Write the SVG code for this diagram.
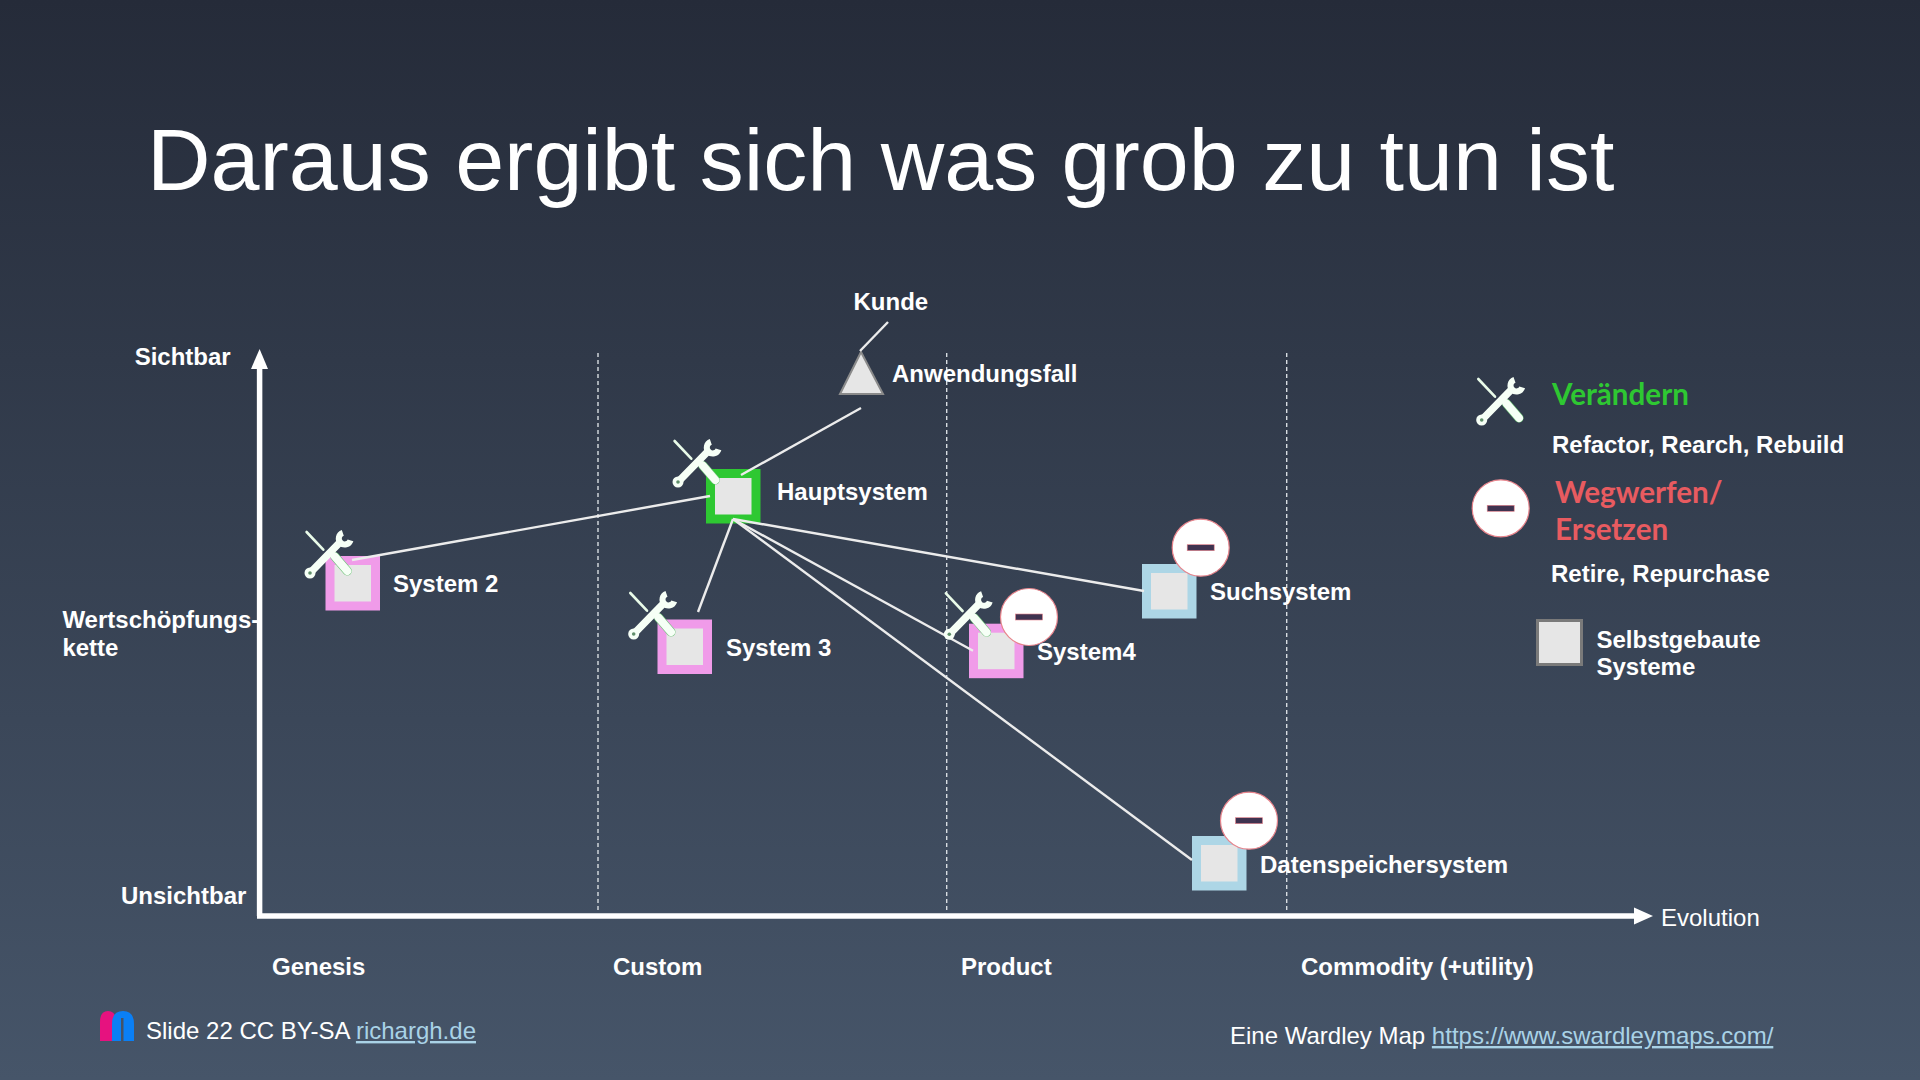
<svg xmlns="http://www.w3.org/2000/svg" width="1920" height="1080" viewBox="0 0 1920 1080">
<defs>
<linearGradient id="bg" x1="0" y1="0" x2="0" y2="1"><stop offset="0" stop-color="#252b39"/><stop offset="1" stop-color="#465569"/></linearGradient>
<g id="tools" fill="none">
<path d="M18.300 14L35 31.700" stroke="#e9fbe9" stroke-width="2.600" stroke-linecap="round"/>
<path d="M46.500 38.500L59 53" stroke="#6fc47a" stroke-width="9" stroke-linecap="round"/>
<path d="M46.500 38.500L59 53" stroke="#f6fff6" stroke-width="8" stroke-linecap="round"/>
<path d="M21.700 55L50 26" stroke="#f6fff6" stroke-width="7.500" stroke-linecap="round"/>
<circle cx="21.700" cy="55" r="5.500" fill="#f6fff6"/><circle cx="21.700" cy="55" r="1.800" fill="#5f8f6a"/>
<path d="M54.500 14.800A6 6 0 1 0 62.200 22.300" stroke="#f6fff6" stroke-width="6"/>
</g>
<g id="minus">
<circle r="28.500" fill="#fff" stroke="#e8848c" stroke-width="1.200"/>
<rect x="-13.500" y="-3" width="27" height="6" fill="#3f3350" stroke="#e8848c" stroke-width=".6"/>
</g>
</defs>
<style>
text{font-family:"Liberation Sans",Arial,sans-serif;fill:#fff}
.b{font-weight:700;font-size:24px}
.r{font-size:24px}
.c{font-family:Lato,"Liberation Sans",sans-serif;font-weight:700;font-size:29.600px}
.link{fill:#a9d2e6;text-decoration:underline}
.inner{fill:#e6e6e6}
.conn{stroke:#ececec;stroke-width:2.400;fill:none}
.grid{stroke:#d8dde2;stroke-width:1.400;stroke-dasharray:4 3;fill:none}
.axis{stroke:#fff;stroke-width:5.500;fill:none}
</style>
<rect width="1920" height="1080" fill="url(#bg)"/>
<text x="147" y="190" font-size="88" id="title">Daraus ergibt sich was grob zu tun ist</text>

<g id="grid">
<path class="grid" d="M598 353V912M946.700 353V912M1286.700 353V912"/>
</g>
<g id="axes">
<path class="axis" d="M259.600 916V362"/><path d="M259.600 349L251 369H268Z" fill="#fff"/>
<path class="axis" d="M257 916H1638"/><path d="M1653 916L1634 907.500V924.500Z" fill="#fff"/>
<text class="b" x="134.700" y="365">Sichtbar</text>
<text class="b" x="121" y="904">Unsichtbar</text>
<text class="b" x="62.400" y="628">Wertschöpfungs-</text>
<text class="b" x="62.400" y="656">kette</text>
<text class="r" x="1661" y="926">Evolution</text>
<text class="b" x="272" y="975">Genesis</text>
<text class="b" x="613" y="975">Custom</text>
<text class="b" x="961" y="975">Product</text>
<text class="b" x="1301" y="975">Commodity (+utility)</text>
</g>

<g id="node-anwendungsfall">
<path d="M861 352L840 394H883Z" fill="#e6e6e6" stroke="#8a8a8a" stroke-width="2"/>
<text class="b" x="853.500" y="310">Kunde</text>
<text class="b" x="892" y="382">Anwendungsfall</text>
</g>
<g id="node-hauptsystem">
<rect x="706" y="469" width="54.500" height="54.500" fill="#2ec832"/><rect class="inner" x="715" y="478" width="36.500" height="36.500"/>
<text class="b" x="777" y="500">Hauptsystem</text>
</g>
<g id="node-system2">
<rect x="325.500" y="556" width="54.500" height="54.500" fill="#f09be9"/><rect class="inner" x="334.500" y="565" width="36.500" height="36.500"/>
<text class="b" x="393" y="592">System 2</text>
</g>
<g id="node-system3">
<rect x="657.500" y="619.500" width="54.500" height="54.500" fill="#f09be9"/><rect class="inner" x="666.500" y="628.500" width="36.500" height="36.500"/>
<text class="b" x="726" y="656">System 3</text>
</g>
<g id="node-system4">
<rect x="969" y="623.700" width="54.500" height="54.500" fill="#f09be9"/><rect class="inner" x="978" y="632.700" width="36.500" height="36.500"/>
<text class="b" x="1037" y="660">System4</text>
</g>
<g id="node-suchsystem">
<rect x="1142" y="564" width="54.500" height="54.500" fill="#add6e6"/><rect class="inner" x="1151" y="573" width="36.500" height="36.500"/>
<text class="b" x="1210" y="600">Suchsystem</text>
</g>
<g id="node-datenspeichersystem">
<rect x="1192" y="836" width="54.500" height="54.500" fill="#add6e6"/><rect class="inner" x="1201" y="845" width="36.500" height="36.500"/>
<text class="b" x="1260" y="873">Datenspeichersystem</text>
</g>

<g id="connectors">
<path class="conn" d="M888 322L860 351"/>
<path class="conn" d="M861 408L741 475"/>
<path class="conn" d="M710 496L352 560"/>
<path class="conn" d="M733 519L698 612"/>
<path class="conn" d="M733 519L1144 591"/>
<path class="conn" d="M733 519L973 650.700"/>
<path class="conn" d="M733 519L1192 860"/>
</g>

<g id="markers">
<use href="#tools" x="656.300" y="427"/>
<use href="#tools" x="288.300" y="518"/>
<use href="#tools" x="612" y="579"/>
<use href="#tools" x="927.600" y="579.300"/>
<use href="#minus" x="1029" y="617"/>
<use href="#minus" x="1200.700" y="547.700"/>
<use href="#minus" x="1249" y="820.700"/>
</g>

<g id="legend">
<use href="#tools" x="1460" y="365"/>
<text class="c" x="1552" y="405" style="fill:#2ec832">Verändern</text>
<text class="b" x="1552" y="453">Refactor, Rearch, Rebuild</text>
<use href="#minus" x="1500.700" y="508.300"/>
<text class="c" x="1555" y="503" style="fill:#e85b60">Wegwerfen/</text>
<text class="c" x="1555" y="540" style="fill:#e85b60">Ersetzen</text>
<text class="b" x="1551" y="582">Retire, Repurchase</text>
<rect x="1537.500" y="620.500" width="44" height="44" fill="#e6e6e6" stroke="#7a7a7a" stroke-width="3"/>
<text class="b" x="1596.500" y="648">Selbstgebaute</text>
<text class="b" x="1596.500" y="675">Systeme</text>
</g>

<g id="footer">
<path d="M100 1041V1022Q100 1011 108 1011T116 1022V1041Z" fill="#e6127f"/>
<path d="M112 1041V1024Q112 1011 123 1011T134 1024V1041H123.500V1018H121V1041Z" fill="#0a7ff5"/>
<text class="r" x="146" y="1039">Slide 22 CC BY-SA <tspan class="link">richargh.de</tspan></text>
<text class="r" x="1230" y="1044">Eine Wardley Map <tspan class="link">https://www.swardleymaps.com/</tspan></text>
</g>
</svg>
